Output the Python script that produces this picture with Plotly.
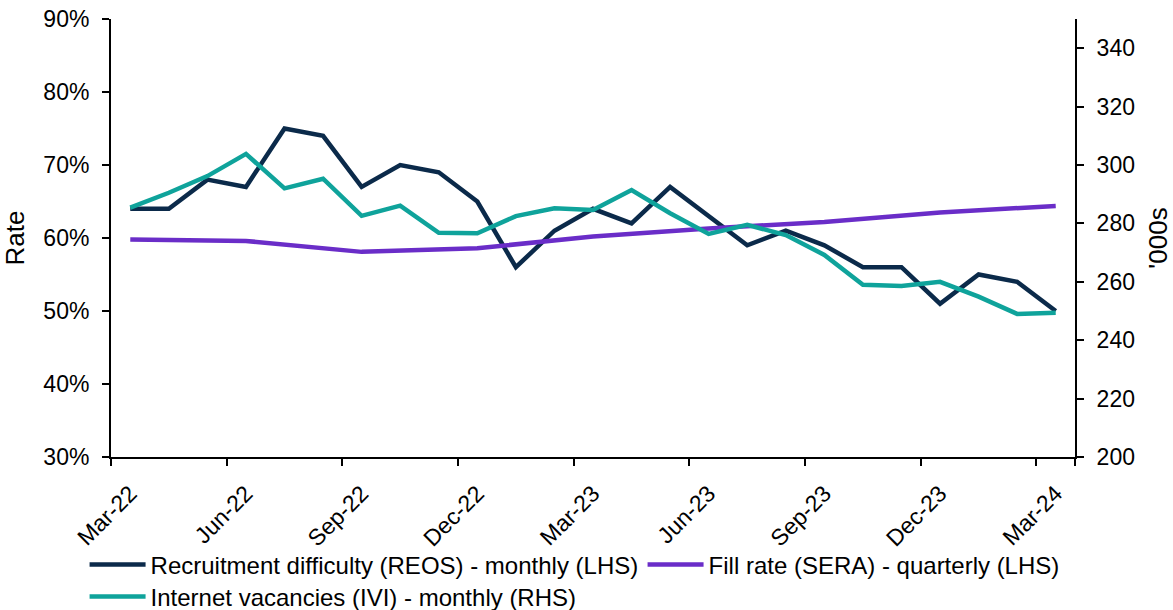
import plotly.graph_objects as go
import pandas as pd

# monthly categories Mar-22 .. Mar-24
months = pd.date_range("2022-03-01", "2024-03-01", freq="MS").strftime("%b-%y").tolist()
tick_months = months[::3]

recruitment = [64, 64, 68, 67, 75, 74, 67, 70, 69, 65, 56, 61, 64,
               62, 67, 63, 59, 61, 59, 56, 56, 51, 55, 54, 50]

# quarterly series, only Mar/Jun/Sep/Dec have a value
fill_rate = [59.8, None, None, 59.6, None, None, 58.1, None, None, 58.6, None, None, 60.2,
             None, None, 61.3, None, None, 62.2, None, None, 63.5, None, None, 64.4]

vacancies = [285.4, 290.5, 296.2, 303.8, 292.0, 295.3, 282.6, 286.1, 276.8, 276.6, 282.5, 285.2, 284.6,
             291.4, 283.5, 276.4, 279.5, 276.0, 269.2, 259.0, 258.6, 260.0, 254.9, 249.0, 249.4]

NAVY = "#0B2A4A"
PURPLE = "#6A2DC8"
TEAL = "#0FA39B"
FONT = "Liberation Sans, Arial, sans-serif"

fig = go.Figure()
fig.add_scatter(x=months, y=recruitment, mode="lines", legend="legend",
                name="Recruitment difficulty (REOS) - monthly (LHS)",
                line=dict(color=NAVY, width=4.5))
fig.add_scatter(x=months, y=fill_rate, mode="lines", connectgaps=True, legend="legend2",
                name="Fill rate (SERA) - quarterly (LHS)",
                line=dict(color=PURPLE, width=4.5))
fig.add_scatter(x=months, y=vacancies, mode="lines", yaxis="y2", legend="legend3",
                name="Internet vacancies (IVI) - monthly (RHS)",
                line=dict(color=TEAL, width=4.5))

axis_common = dict(showline=True, linecolor="black", linewidth=2, showgrid=False, automargin=False,
                   zeroline=False, ticks="outside", ticklen=7, tickwidth=2, tickcolor="black",
                   tickfont=dict(size=23))

legend_common = dict(orientation="h", xanchor="left", yanchor="middle",
                     xref="container", yref="container",
                     font=dict(size=24), itemwidth=56, bgcolor="rgba(0,0,0,0)")

fig.update_layout(
    width=1173, height=610,
    margin=dict(l=111, r=98, t=19, b=153),
    paper_bgcolor="white", plot_bgcolor="white",
    font=dict(family=FONT, size=22, color="black"),
    xaxis=dict(type="category", range=[-0.5, 24.5], tickmode="array",
               tickvals=tick_months, tickson="boundaries", tickangle=-45,
               ticklabelstandoff=12, **axis_common),
    yaxis=dict(range=[30, 90], dtick=10, ticksuffix="%",
               title=dict(text="Rate"), ticklabelstandoff=8, **axis_common),
    yaxis2=dict(range=[200, 350], tickmode="array", tickvals=list(range(200, 341, 20)),
                overlaying="y", side="right", ticklabelstandoff=8,
                title=dict(text="'000s"), **axis_common),
    legend=dict(x=0.0721, y=0.0738, **legend_common),
    legend2=dict(x=0.5478, y=0.0738, **legend_common),
    legend3=dict(x=0.0721, y=0.0213, **legend_common),
    showlegend=True,
)

# drop the default 8px body margin so the figure fills the window
fig.write_html("out.html", config={"displayModeBar": False},
               post_script="document.body.style.margin='0px';")
